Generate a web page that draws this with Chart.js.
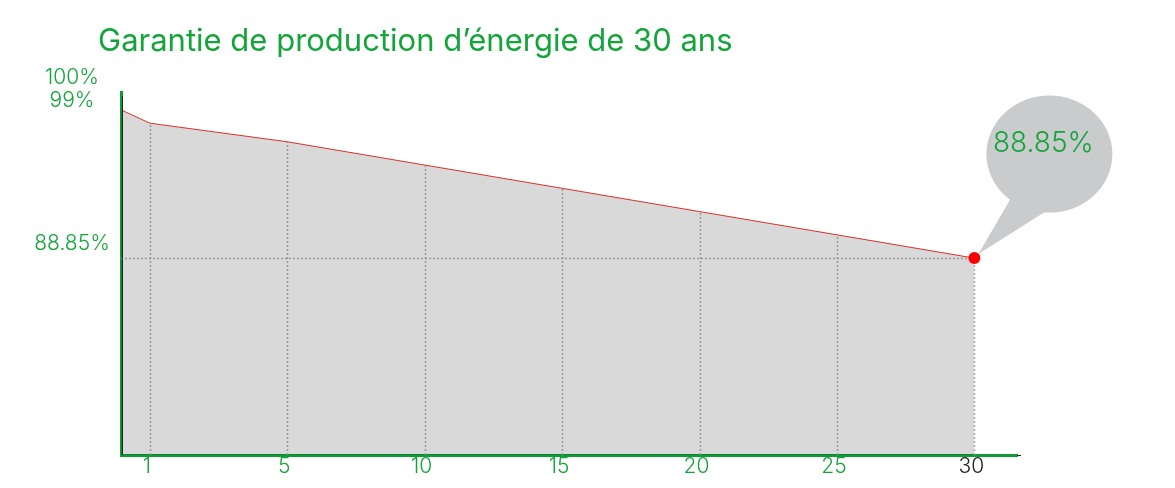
<!DOCTYPE html>
<html lang="fr">
<head>
<meta charset="utf-8">
<script src="https://cdn.jsdelivr.net/npm/chart.js@4"></script>
<style>
  html, body { margin: 0; padding: 0; background: #fff; }
  #wrap { width: 1175px; height: 488px; position: relative; }
</style>
</head>
<body>
<div id="wrap"><canvas id="garantie"></canvas></div>
<script>
// Données
const titre = 'Garantie de production d\u2019énergie de 30 ans';
const annees = ['1', '5', '10', '15', '20', '25', '30'];
const garantie = [99, 97.6, 95.85, 94.1, 92.35, 90.6, 88.85];
const depart = 100;
const etiquettesY = [100, 99, 88.85];
const valeurBulle = 88.85;

const VERT = '#14a53a';
const FONT = 'Inter, "Open Sans", sans-serif';

// Points : départ collé à l'axe, puis une position par année affichée
const points = [{ x: -0.21, y: depart }].concat(garantie.map((v, i) => ({ x: i, y: v })));

// Lignes pointillées + bulle + étiquettes Y
const decor = {
    id: 'decor',
    beforeDatasetsDraw(chart) {
        const { ctx, chartArea, scales } = chart;
        const x = scales.x, y = scales.y;
        ctx.save();
        ctx.strokeStyle = '#b4b4b4';
        ctx.lineWidth = 1.5;
        ctx.setLineDash([2, 2]);
        // verticales : du bas jusqu'à la courbe
        garantie.forEach((v, i) => {
            const px = Math.round(x.getPixelForValue(i)) + 0.5;
            ctx.beginPath();
            ctx.moveTo(px, chartArea.bottom);
            ctx.lineTo(px, y.getPixelForValue(v));
            ctx.stroke();
        });
        // horizontale à la valeur finale
        const py = Math.round(y.getPixelForValue(valeurBulle)) + 0.5;
        ctx.beginPath();
        ctx.moveTo(chartArea.left, py);
        ctx.lineTo(x.getPixelForValue(garantie.length - 1), py);
        ctx.stroke();
        ctx.setLineDash([]);

        // bulle
        const last = garantie.length - 1;
        const tx = x.getPixelForValue(last), ty = y.getPixelForValue(garantie[last]);
        const cx = tx + 75, cy = ty - 104;
        ctx.fillStyle = '#c9cbcd';
        ctx.beginPath();
        ctx.ellipse(cx, cy, 63, 58.5, 0, 0, Math.PI * 2);
        ctx.fill();
        ctx.beginPath();
        ctx.moveTo(cx - 36, cy + 40);
        ctx.lineTo(cx - 3, cy + 57);
        ctx.lineTo(tx + 4, ty - 4);
        ctx.closePath();
        ctx.fill();
        ctx.fillStyle = VERT;
        ctx.font = '300 28px ' + FONT;
        ctx.textAlign = 'center';
        ctx.textBaseline = 'middle';
        ctx.fillText(valeurBulle + '%', cx - 6, cy - 11);
        ctx.restore();
    },
    afterDraw(chart) {
        const { ctx, chartArea, scales } = chart;
        const decalages = [-32, -22, -14];
        ctx.save();
        ctx.fillStyle = VERT;
        ctx.font = '300 21px ' + FONT;
        ctx.textAlign = 'center';
        ctx.textBaseline = 'middle';
        etiquettesY.forEach((v, i) => {
            ctx.fillText(v + '%', chartArea.left - 49, scales.y.getPixelForValue(v) + decalages[i]);
        });
        // petit trait noir le long de l'axe Y et en bout d'axe X
        ctx.strokeStyle = '#222';
        ctx.lineWidth = 1;
        ctx.beginPath();
        ctx.moveTo(chartArea.left + 1.5, chartArea.top + 4);
        ctx.lineTo(chartArea.left + 1.5, chartArea.bottom);
        ctx.moveTo(chartArea.right, chartArea.bottom + 0.5);
        ctx.lineTo(chartArea.right + 4, chartArea.bottom + 0.5);
        ctx.stroke();
        ctx.restore();
    }
};

new Chart(document.getElementById('garantie'), {
    type: 'line',
    data: {
        datasets: [{
            data: points,
            borderColor: '#d9302c',
            borderWidth: 1,
            backgroundColor: 'rgba(0, 0, 0, 0.15)',
            fill: 'start',
            tension: 0,
            pointRadius: points.map((p, i) => i === points.length - 1 ? 6 : 0),
            pointBackgroundColor: '#ff0000',
            pointBorderWidth: 0
        }]
    },
    options: {
        responsive: true,
        maintainAspectRatio: false,
        animation: false,
        layout: { padding: { left: 98, right: 158, top: 0, bottom: 0 } },
        plugins: {
            legend: { display: false },
            tooltip: { enabled: false },
            title: {
                display: true,
                text: titre,
                align: 'start',
                color: VERT,
                font: { family: FONT, size: 31, weight: 'normal' },
                padding: { top: 23, bottom: 32 }
            }
        },
        scales: {
            x: {
                type: 'linear',
                min: -0.21,
                max: 6.31,
                grid: { display: false },
                border: { display: true, color: '#0e9c34', width: 3 },
                afterBuildTicks: s => { s.ticks = annees.map((_, i) => ({ value: i })); },
                afterFit: s => { s.height = 33; },
                ticks: {
                    padding: -9,
                    labelOffset: -3,
                    font: { family: FONT, size: 21, weight: '300' },
                    color: c => c.index === annees.length - 1 ? '#222' : VERT,
                    callback: (v, i) => annees[i]
                }
            },
            y: {
                min: 74.04,
                max: 101.33,
                grid: { display: false },
                border: { display: true, color: '#0e9c34', width: 3 },
                ticks: { display: false },
                afterFit: s => { s.width = 23; }
            }
        }
    },
    plugins: [decor]
});
</script>
</body>
</html>
